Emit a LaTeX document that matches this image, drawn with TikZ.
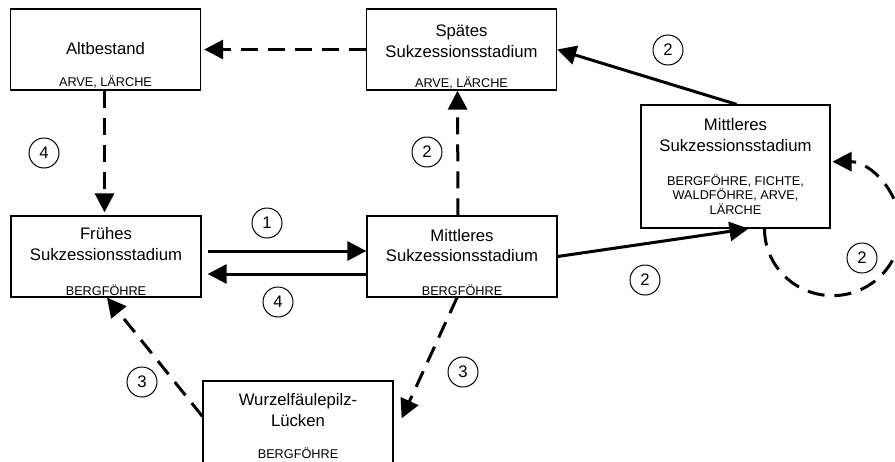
\documentclass[tikz,border=0pt]{standalone}
\usepackage{fontspec}
\setmainfont{Liberation Sans}
\usetikzlibrary{arrows.meta}

\begin{document}
\begin{tikzpicture}[
    x=1pt,y=1pt,
    stage/.style={rectangle,draw=black,line width=1.3pt,minimum width=190pt,minimum height=81pt,inner sep=0pt},
    head/.style={align=center,inner sep=0pt,font=\fontsize{16.7}{20.5}\selectfont},
    spec/.style={align=center,inner sep=0pt,font=\fontsize{12.7}{14.5}\selectfont},
    num/.style={circle,draw=black,line width=1pt,minimum size=30pt,inner sep=0pt,font=\fontsize{16.7}{20}\selectfont},
    go/.style={line width=3pt,-{Triangle[length=19pt,width=19pt]}},
    drift/.style={go,dash pattern=on 17pt off 10pt}
]
    \useasboundingbox (0,0) rectangle (895,-461);

    % stages
    \node[stage] (alt) at (105.5,-49.5) {};
    \node[stage] (spaet) at (461.5,-49.5) {};
    \node[stage] (frueh) at (106,-256.5) {};
    \node[stage] (mitt) at (462,-256.5) {};
    \node[stage,minimum width=189pt,minimum height=123pt] (mittr) at (735.5,-166.5) {};
    \node[stage,minimum height=88pt] (wurz) at (298,-425) {};

    \node[head] (alt-h) at (105.5,-49) {Altbestand};
    \node[spec] (alt-s) at (105.5,-82) {ARVE, LÄRCHE};
    \node[head] (spaet-h) at (461.5,-41) {Spätes\\Sukzessionsstadium};
    \node[spec] (spaet-s) at (461.5,-82.5) {ARVE, LÄRCHE};
    \node[head] (frueh-h) at (106,-244) {Frühes\\Sukzessionsstadium};
    \node[spec] (frueh-s) at (106,-290.5) {BERGFÖHRE};
    \node[head] (mitt-h) at (462,-245.5) {Mittleres\\Sukzessionsstadium};
    \node[spec] (mitt-s) at (462,-290.5) {BERGFÖHRE};
    \node[head] (mittr-h) at (735.5,-135) {Mittleres\\Sukzessionsstadium};
    \node[spec] (mittr-s) at (735.5,-194.5) {BERGFÖHRE, FICHTE,\\WALDFÖHRE, ARVE,\\LÄRCHE};
    \node[head] (wurz-h) at (298,-410) {Wurzelfäulepilz-\\Lücken};
    \node[spec] (wurz-s) at (298,-453.5) {BERGFÖHRE};

    % transitions
    \draw[drift,shorten >=3pt] (spaet) -- (alt);
    \draw[drift,shorten >=3pt] ([xshift=-1pt]alt.south) -- ([xshift=-1.5pt]frueh.north);
    \draw[go,shorten <=6pt] ([yshift=5.5pt]frueh.east) -- ([yshift=5.5pt]mitt.west);
    \draw[go,shorten >=6pt] ([yshift=-17.5pt]mitt.west) -- ([yshift=-17.5pt]frueh.east);
    \draw[drift] ([xshift=-4pt]mitt.north) -- ([xshift=-4pt]spaet.south);
    \draw[go] (mitt.east) -- ([xshift=13pt]mittr.south);
    \draw[go] ([xshift=1pt]mittr.north) -- (spaet.east);
    \draw[drift] ([xshift=-5pt]mitt.south) -- ([xshift=8pt,yshift=-38pt]wurz.north east);
    \draw[drift] ([yshift=-36pt]wurz.north west) -- ([xshift=1pt]frueh.south);
    \draw[drift] ([xshift=29pt]mittr.south) arc[start angle=180,end angle=450,x radius=68pt,y radius=67pt];

    % numbers
    \node[num] (n1) at (267,-223) {1};
    \node[num] (n4a) at (278,-302) {4};
    \node[num] (n4b) at (44,-153) {4};
    \node[num] (n2a) at (427,-152) {2};
    \node[num] (n2b) at (668,-50) {2};
    \node[num] (n2c) at (645,-280) {2};
    \node[num] (n2d) at (862,-258) {2};
    \node[num] (n3a) at (142,-382) {3};
    \node[num] (n3b) at (463,-372) {3};
\end{tikzpicture}
\end{document}
